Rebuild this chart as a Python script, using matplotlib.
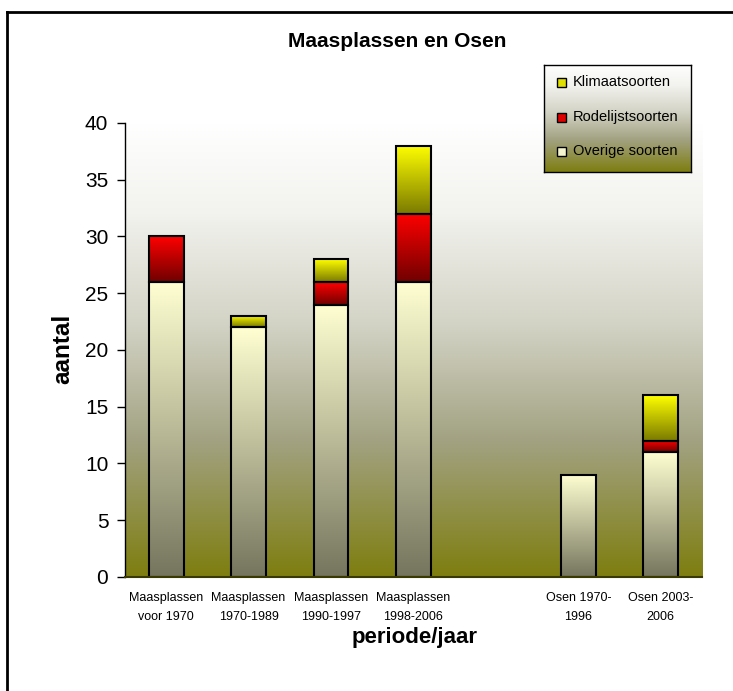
import numpy as np
import matplotlib
matplotlib.use('Agg')
import matplotlib.pyplot as plt
from matplotlib.colors import LinearSegmentedColormap, to_rgb
from matplotlib.patches import Rectangle
from matplotlib.lines import Line2D

plt.rcParams['font.family'] = ['Liberation Sans', 'DejaVu Sans']

##------------data-----------------##
categories = ["Maasplassen\nvoor 1970", "Maasplassen\n1970-1989", "Maasplassen\n1990-1997",
              "Maasplassen\n1998-2006", "", "Osen 1970-\n1996", "Osen 2003-\n2006"]
overige = [26, 22, 24, 26, 0, 9, 11]
rodelijst = [4, 0, 2, 6, 0, 0, 1]
klimaat = [0, 1, 2, 6, 0, 0, 4]
series_names = ["Overige soorten", "Rodelijstsoorten", "Klimaatsoorten"]
yticks = [0, 5, 10, 15, 20, 25, 30, 35, 40]

##------------styles-----------------##
# gradient (bottom colour, top colour) per series
grad = [('#75755e', '#ffffd2'), ('#700000', '#ff0000'), ('#7a7a00', '#ffff00')]
legend_sq = ['#f4f4d0', '#e00000', '#e0e000']
bg_cmap = LinearSegmentedColormap.from_list(
    'bg', [(0.0, '#7e7e10'), (0.3, '#a2a282'), (0.55, '#d2d2c4'), (0.8, '#f2f2ee'), (1.0, '#ffffff')])
bar_w = 0.42


def vgrad(c0, c1, n=256):
    a = np.array(to_rgb(c0)); b = np.array(to_rgb(c1))
    t = np.linspace(0, 1, n)[:, None]
    return (a + (b - a) * t).reshape(n, 1, 3)


fig = plt.figure(figsize=(7.33, 6.91), dpi=100)
fig.patch.set_facecolor('white')
ax = fig.add_axes([0.1705, 0.165, 0.7872, 0.657])

x = np.arange(len(categories))
xmin, xmax = -0.5, len(categories) - 0.5

# background
bg = bg_cmap(np.linspace(0, 1, 256))[:, None, :3]
ax.imshow(bg, extent=[xmin, xmax, 0, 40], origin='lower', aspect='auto', zorder=0)

# stacked gradient bars
stacks = [overige, rodelijst, klimaat]
bottom = np.zeros(len(categories))
for vals, (c0, c1) in zip(stacks, grad):
    for i, v in enumerate(vals):
        if v <= 0:
            continue
        b = bottom[i]
        ax.imshow(vgrad(c0, c1), extent=[x[i] - bar_w / 2, x[i] + bar_w / 2, b, b + v],
                  origin='lower', aspect='auto', zorder=2)
        ax.add_patch(Rectangle((x[i] - bar_w / 2, b), bar_w, v, fill=False,
                               edgecolor='black', linewidth=1.5, zorder=3))
    bottom += np.array(vals)

ax.set_xlim(xmin, xmax)
ax.set_ylim(0, 40)
ax.set_yticks(yticks)
ax.set_xticks(x)
ax.set_xticklabels(categories, fontsize=9, linespacing=1.7)
ax.tick_params(axis='x', length=0, pad=11)
ax.tick_params(axis='y', labelsize=15, length=6, width=1, pad=6, direction='out')
for s in ['top', 'right']:
    ax.spines[s].set_visible(False)
ax.spines['left'].set_linewidth(1)
ax.spines['bottom'].set_color('#3a3a00')
ax.spines['bottom'].set_linewidth(1.5)
ax.spines['bottom'].set_zorder(4)

fig.text(0.542, 0.94, "Maasplassen en Osen", fontsize=15, fontweight='bold', ha='center', va='center')
fig.text(0.565, 0.078, "periode/jaar", fontsize=16, fontweight='bold', ha='center', va='center')
fig.text(0.085, 0.495, "aantal", fontsize=17.5, fontweight='bold', rotation=90, ha='center', va='center')

# legend box
lax = fig.add_axes([0.742, 0.751, 0.201, 0.155])
lax.imshow(bg, extent=[0, 1, 0, 1], origin='lower', aspect='auto')
lax.set_xlim(0, 1); lax.set_ylim(0, 1)
lax.set_xticks([]); lax.set_yticks([])
for s in lax.spines.values():
    s.set_linewidth(1)
ypos = [0.196, 0.514, 0.84]
for name, col, yy in zip(series_names, legend_sq, ypos):
    lax.add_patch(Rectangle((0.09, yy - 0.042), 0.06, 0.084, facecolor=col,
                            edgecolor='black', linewidth=1))
    lax.text(0.197, yy, name, fontsize=10.5, va='center', ha='left')

# outer chart frame
fig.add_artist(Line2D([0.0095, 0.0095], [0.0, 0.9826], color='black', linewidth=2))
fig.add_artist(Line2D([0.0095, 1.0], [0.9826, 0.9826], color='black', linewidth=2))

plt.savefig('out.png', dpi=100)
